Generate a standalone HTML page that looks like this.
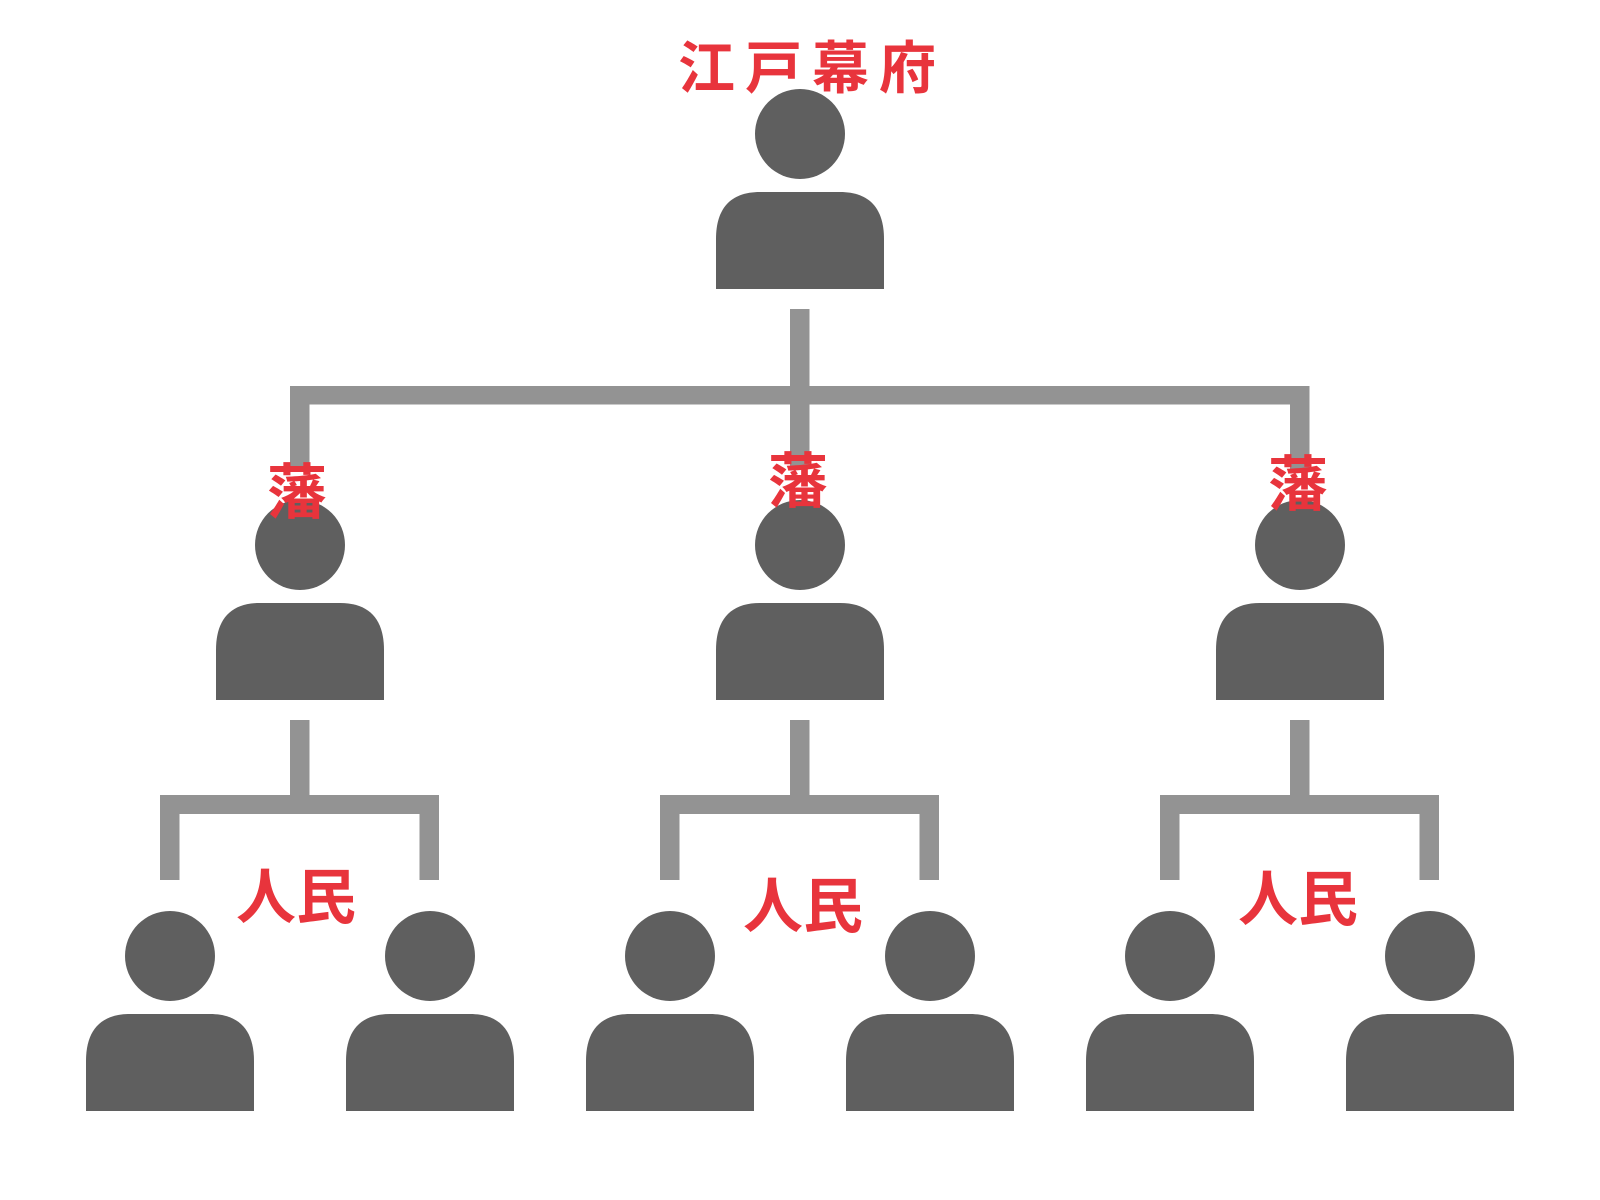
<!DOCTYPE html>
<html><head><meta charset="utf-8"><style>
html,body{margin:0;padding:0;background:#fff;}
svg{display:block;}
text{font-family:"Liberation Sans","Noto Sans CJK JP",sans-serif;fill:#e8343c;font-weight:bold;text-anchor:middle;dominant-baseline:central;}
</style></head><body>
<svg width="1600" height="1200" viewBox="0 0 1600 1200" xmlns="http://www.w3.org/2000/svg">
<defs>
<g id="p">
<circle cx="0" cy="0" r="45" fill="#5f5f5f"/>
<path d="M-84,155 L-84,105 C-84,75 -70,58 -40,58 L40,58 C70,58 84,75 84,105 L84,155 Z" fill="#5f5f5f"/>
</g>
</defs>
<g fill="#939393">
<rect x="790" y="309" width="19.5" height="160"/>
<rect x="290" y="386" width="1019" height="18.5"/>
<rect x="290" y="386" width="19.5" height="84"/>
<rect x="1290" y="386" width="19.5" height="84"/>
<rect x="290" y="720" width="19.5" height="85"/>
<rect x="160" y="795" width="279" height="19"/>
<rect x="160" y="795" width="19.5" height="85"/>
<rect x="419.5" y="795" width="19.5" height="85"/>
<rect x="790" y="720" width="19.5" height="85"/>
<rect x="660" y="795" width="279" height="19"/>
<rect x="660" y="795" width="19.5" height="85"/>
<rect x="919.5" y="795" width="19.5" height="85"/>
<rect x="1290" y="720" width="19.5" height="85"/>
<rect x="1160" y="795" width="279" height="19"/>
<rect x="1160" y="795" width="19.5" height="85"/>
<rect x="1419.5" y="795" width="19.5" height="85"/>
</g>
<use href="#p" x="800" y="134"/>
<use href="#p" x="300" y="545"/>
<use href="#p" x="800" y="545"/>
<use href="#p" x="1300" y="545"/>
<use href="#p" x="170" y="956"/>
<use href="#p" x="430" y="956"/>
<use href="#p" x="670" y="956"/>
<use href="#p" x="930" y="956"/>
<use href="#p" x="1170" y="956"/>
<use href="#p" x="1430" y="956"/>
<text x="812" y="69" font-size="57" letter-spacing="10">江戸幕府</text>
<text x="297" y="493" font-size="60">藩</text>
<text x="798" y="482" font-size="60">藩</text>
<text x="1298" y="485" font-size="60">藩</text>
<text x="296" y="898" font-size="60" style="font-weight:600">人民</text>
<text x="803" y="907" font-size="60" style="font-weight:600">人民</text>
<text x="1298" y="900" font-size="60" style="font-weight:600">人民</text>
</svg>
</body></html>
